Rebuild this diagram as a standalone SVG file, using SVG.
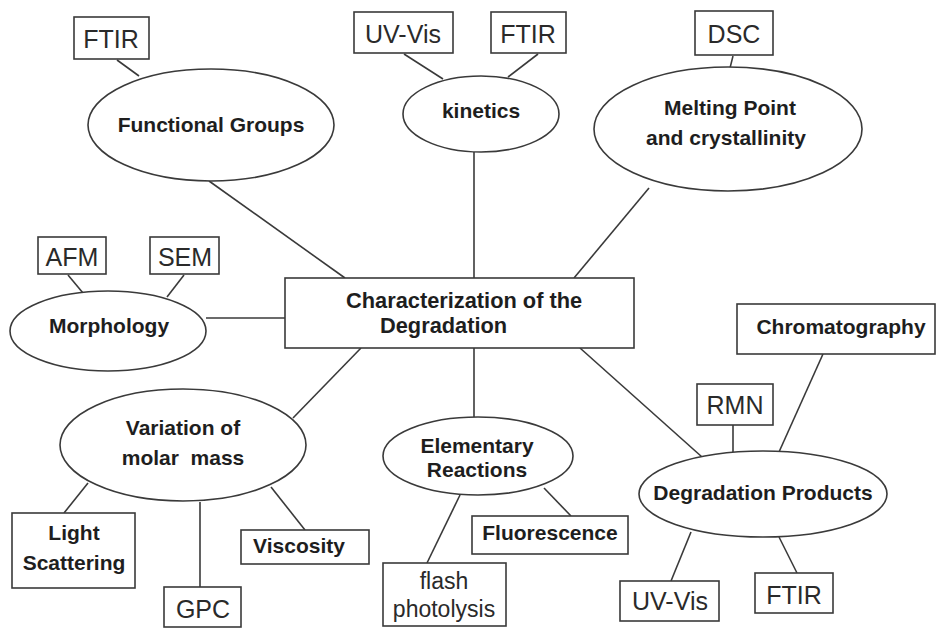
<svg xmlns="http://www.w3.org/2000/svg" width="936" height="628" viewBox="0 0 936 628">
<style>
.bg{fill:#ffffff}
.box{fill:#ffffff;stroke:#3a3a3a;stroke-width:1.6}
.ell{fill:#ffffff;stroke:#3a3a3a;stroke-width:1.6}
.ln{stroke:#3a3a3a;stroke-width:1.6;fill:none}
.b{font-family:"Liberation Sans",Arial,sans-serif;font-weight:bold;font-size:21px;fill:#1e1e1e;text-anchor:middle}
.n{font-family:"Liberation Sans",Arial,sans-serif;font-size:25px;fill:#2a2a2a;text-anchor:middle}
</style>
<rect class="bg" x="0" y="0" width="936" height="628"/>
<g id="connectors">
<line class="ln" x1="117" y1="60" x2="139" y2="76"/>
<line class="ln" x1="209" y1="181" x2="345" y2="278"/>
<line class="ln" x1="404" y1="54" x2="443" y2="79"/>
<line class="ln" x1="538" y1="54" x2="508" y2="77"/>
<line class="ln" x1="474" y1="152" x2="474" y2="278"/>
<line class="ln" x1="733" y1="56" x2="730" y2="68"/>
<line class="ln" x1="649" y1="188" x2="574" y2="278"/>
<line class="ln" x1="68" y1="275" x2="83" y2="293"/>
<line class="ln" x1="184" y1="275" x2="167" y2="297"/>
<line class="ln" x1="206" y1="318" x2="285" y2="318"/>
<line class="ln" x1="361" y1="348" x2="293" y2="418"/>
<line class="ln" x1="88" y1="483" x2="64" y2="513"/>
<line class="ln" x1="200" y1="502" x2="200" y2="587"/>
<line class="ln" x1="271" y1="487" x2="305" y2="530"/>
<line class="ln" x1="474" y1="348" x2="474" y2="417"/>
<line class="ln" x1="544" y1="488" x2="571" y2="516"/>
<line class="ln" x1="460" y1="495" x2="427" y2="563"/>
<line class="ln" x1="580" y1="348" x2="702" y2="457"/>
<line class="ln" x1="733" y1="425" x2="733" y2="452"/>
<line class="ln" x1="823" y1="354" x2="779" y2="452"/>
<line class="ln" x1="691" y1="532" x2="671" y2="581"/>
<line class="ln" x1="779" y1="537" x2="797" y2="573"/>
</g>
<g id="center">
<rect class="box" x="285" y="278" width="349" height="70"/>
<text class="b" x="346" y="308" style="text-anchor:start;font-size:21.8px">Characterization of the</text>
<text class="b" x="380" y="333" style="text-anchor:start;font-size:21.8px">Degradation</text>
</g>
<g id="functional-groups">
<ellipse class="ell" cx="211" cy="125" rx="123" ry="56"/>
<text class="b" x="211" y="132">Functional Groups</text>
</g>
<g id="fg-ftir">
<rect class="box" x="74" y="17" width="75" height="42"/>
<text class="n" x="111" y="48">FTIR</text>
</g>
<g id="kinetics">
<ellipse class="ell" cx="481" cy="114" rx="78" ry="38"/>
<text class="b" x="481" y="118">kinetics</text>
</g>
<g id="kin-uvvis">
<rect class="box" x="354" y="12" width="99" height="41"/>
<text class="n" x="403" y="43">UV-Vis</text>
</g>
<g id="kin-ftir">
<rect class="box" x="491" y="12" width="75" height="41"/>
<text class="n" x="528" y="43">FTIR</text>
</g>
<g id="melting">
<ellipse class="ell" cx="728" cy="129" rx="134" ry="62"/>
<text class="b" x="730" y="115">Melting Point</text>
<text class="b" x="726" y="145">and crystallinity</text>
</g>
<g id="dsc">
<rect class="box" x="695" y="11" width="78" height="44"/>
<text class="n" x="734" y="43">DSC</text>
</g>
<g id="morphology">
<ellipse class="ell" cx="108" cy="331" rx="98" ry="40"/>
<text class="b" x="109" y="333">Morphology</text>
</g>
<g id="afm">
<rect class="box" x="38" y="237" width="68" height="37"/>
<text class="n" x="72" y="266">AFM</text>
</g>
<g id="sem">
<rect class="box" x="150" y="237" width="69" height="37"/>
<text class="n" x="185" y="266">SEM</text>
</g>
<g id="variation">
<ellipse class="ell" cx="183" cy="445" rx="123" ry="56"/>
<text class="b" x="183" y="435">Variation of</text>
<text class="b" x="183" y="465" xml:space="preserve">molar  mass</text>
</g>
<g id="light-scattering">
<rect class="box" x="12" y="513" width="123" height="75"/>
<text class="b" x="74" y="540">Light</text>
<text class="b" x="74" y="570">Scattering</text>
</g>
<g id="gpc">
<rect class="box" x="164" y="587" width="77" height="40"/>
<text class="n" x="203" y="618">GPC</text>
</g>
<g id="viscosity">
<rect class="box" x="241" y="530" width="128" height="34"/>
<text class="b" x="299" y="553">Viscosity</text>
</g>
<g id="elementary">
<ellipse class="ell" cx="478" cy="456" rx="95" ry="39"/>
<text class="b" x="477" y="453">Elementary</text>
<text class="b" x="477" y="477">Reactions</text>
</g>
<g id="fluorescence">
<rect class="box" x="472" y="516" width="156" height="38"/>
<text class="b" x="550" y="540">Fluorescence</text>
</g>
<g id="flash">
<rect class="box" x="383" y="563" width="123" height="63"/>
<text class="n" x="444" y="589" style="font-size:23px">flash</text>
<text class="n" x="444" y="617" style="font-size:23px">photolysis</text>
</g>
<g id="degradation-products">
<ellipse class="ell" cx="763" cy="494" rx="124" ry="43"/>
<text class="b" x="763" y="500">Degradation Products</text>
</g>
<g id="rmn">
<rect class="box" x="697" y="384" width="76" height="41"/>
<text class="n" x="735" y="414">RMN</text>
</g>
<g id="chromatography">
<rect class="box" x="737" y="304" width="198" height="50"/>
<text class="b" x="841" y="334">Chromatography</text>
</g>
<g id="dp-uvvis">
<rect class="box" x="620" y="581" width="99" height="40"/>
<text class="n" x="670" y="610">UV-Vis</text>
</g>
<g id="dp-ftir">
<rect class="box" x="755" y="573" width="78" height="40"/>
<text class="n" x="794" y="604">FTIR</text>
</g>
</svg>
